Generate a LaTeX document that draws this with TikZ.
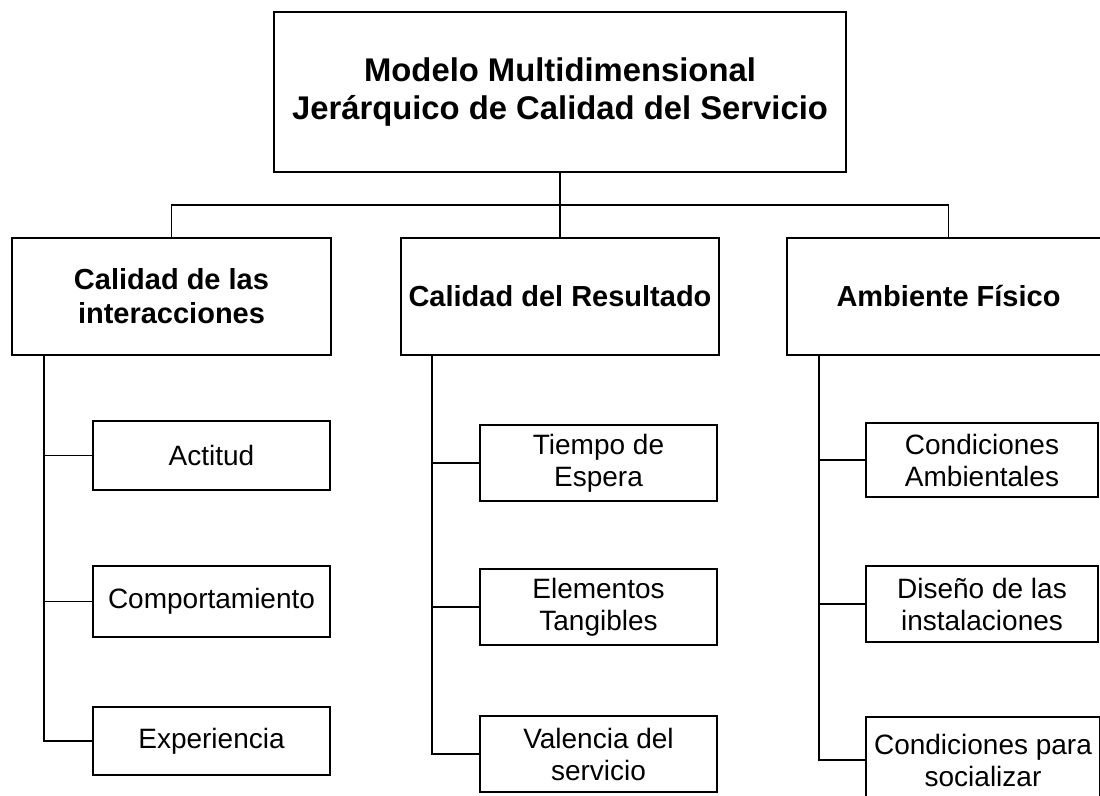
\documentclass[tikz,border=0pt]{standalone}
\usepackage{fontspec}
\setmainfont{Liberation Sans}

\begin{document}
\begin{tikzpicture}[x=0.5pt,y=-0.5pt,
    modelo/.style ={rectangle, draw, line width=1pt, inner sep=0pt, align=center,
      font=\bfseries\fontsize{16.4}{19}\selectfont},
    dimension/.style ={rectangle, draw, line width=1pt, inner sep=0pt, align=center,
      minimum height=58.5pt, font=\bfseries\fontsize{14.5}{17}\selectfont},
    subdim/.style ={rectangle, draw, line width=0.9pt, inner sep=0pt, align=center,
      font=\fontsize{14}{16}\selectfont},
    link/.style ={line width=0.6pt}]
   \clip (0,0) rectangle (1100,796);
   \node[modelo, minimum width=286pt, minimum height=80pt] (M) at (560,92)
     {Modelo Multidimensional\\Jerárquico de Calidad del Servicio};
   \node[dimension, minimum width=159.5pt] (I) at (171.5,296.5) {Calidad de las\\interacciones};
   \node[dimension, minimum width=159pt] (R) at (560,296.5) {Calidad del Resultado};
   \node[dimension, minimum width=161.5pt] (A) at (948.5,296.5) {Ambiente Físico};
   \coordinate (bar) at (560,205);
   % subdimensiones
   \node[subdim, minimum width=118.5pt, minimum height=34.5pt] (I1) at (211.5,455.5) {Actitud};
   \node[subdim, minimum width=118.5pt, minimum height=35.5pt] (I2) at (211.5,601.5) {Comportamiento};
   \node[subdim, minimum width=118.5pt, minimum height=34pt] (I3) at (211.5,741) {Experiencia};
   \node[subdim, minimum width=118.5pt, minimum height=38pt] (R1) at (598.5,463) {Tiempo de\\Espera};
   \node[subdim, minimum width=118.5pt, minimum height=38pt] (R2) at (598.5,607) {Elementos\\Tangibles};
   \node[subdim, minimum width=118.5pt, minimum height=38pt] (R3) at (598.5,754) {Valencia del\\servicio};
   \node[subdim, minimum width=116pt, minimum height=37pt] (A1) at (982,460) {Condiciones\\Ambientales};
   \node[subdim, minimum width=116pt, minimum height=38pt] (A2) at (982,604) {Diseño de las\\instalaciones};
   \node[subdim, minimum width=117pt, minimum height=43pt] (A3) at (983,760) {Condiciones para\\socializar};
   \coordinate (Ispine) at ([xshift=16.5pt]I.south west);
   \coordinate (Rspine) at ([xshift=16pt]R.south west);
   \coordinate (Aspine) at ([xshift=16.5pt]A.south west);
   \draw[link] (M.south) -- (R.north);
   \draw[link] (I.north) |- (bar) -| (A.north);
   \foreach \c in {I1,I2,I3} \draw[link] (Ispine) |- (\c.west);
   \foreach \c in {R1,R2,R3} \draw[link] (Rspine) |- (\c.west);
   \foreach \c in {A1,A2,A3} \draw[link] (Aspine) |- (\c.west);
 \end{tikzpicture}
\end{document}
